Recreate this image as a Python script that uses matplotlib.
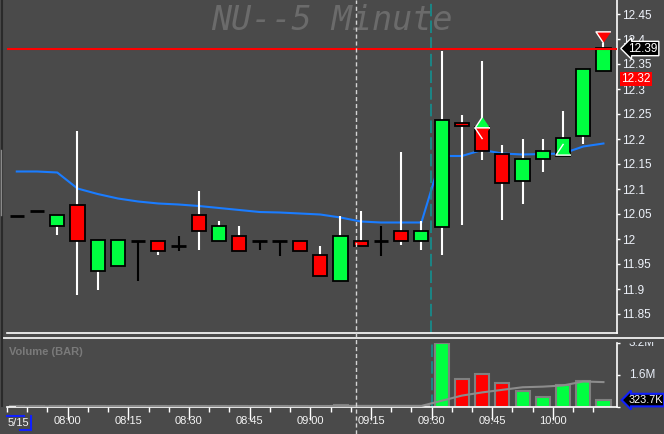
import matplotlib
matplotlib.use("Agg")
import matplotlib.pyplot as plt
import matplotlib.transforms as mtransforms
from matplotlib.lines import Line2D

plt.rcParams['font.family'] = ['Liberation Sans', 'DejaVu Sans']
plt.rcParams['lines.scale_dashes'] = False

# 5 minute bars, 07:45 .. 10:10
opens = [12.047, 12.057, 12.027, 12.067, 11.937, 11.947, 11.997, 11.997, 11.987, 12.047,
         11.997, 12.007, 11.997, 11.997, 11.997, 11.967, 11.917, 11.997, 11.997, 12.017,
         11.997, 12.024, 12.233, 12.223, 12.171, 12.117, 12.161, 12.167, 12.207, 12.337]
closes = [12.047, 12.057, 12.047, 11.997, 11.997, 11.997, 11.997, 11.977, 11.987, 12.017,
          12.027, 11.977, 11.997, 11.997, 11.977, 11.927, 12.007, 11.987, 11.997, 11.997,
          12.017, 12.237, 12.226, 12.177, 12.113, 12.161, 12.177, 12.201, 12.341, 12.381]
highs = [12.047, 12.057, 12.047, 12.216, 11.997, 11.997, 11.997, 11.997, 12.006, 12.096,
         12.036, 12.026, 11.997, 11.997, 11.997, 11.986, 12.046, 12.056, 12.026, 12.174,
         12.036, 12.376, 12.249, 12.356, 12.189, 12.200, 12.200, 12.256, 12.341, 12.392]
lows = [12.047, 12.057, 12.008, 11.889, 11.899, 11.947, 11.917, 11.969, 11.977, 11.979,
        11.997, 11.977, 11.978, 11.966, 11.977, 11.927, 11.917, 11.987, 11.966, 11.989,
        11.979, 11.969, 12.029, 12.159, 12.039, 12.071, 12.135, 12.167, 12.190, 12.337]
price_ma = [12.135, 12.135, 12.133, 12.101, 12.090, 12.081, 12.075, 12.071, 12.069, 12.066,
            12.062, 12.058, 12.054, 12.053, 12.051, 12.049, 12.043, 12.035, 12.033, 12.033,
            12.033, 12.166, 12.166, 12.178, 12.171, 12.169, 12.170, 12.171, 12.185, 12.191]
# volume in millions
volumes = [0.01, 0.01, 0.01, 0.04, 0.01, 0.04, 0.04, 0.01, 0.01, 0.03,
           0.03, 0.03, 0.01, 0.01, 0.01, 0.01, 0.07, 0.01, 0.01, 0.01,
           0.02, 3.19, 1.40, 1.65, 1.19, 0.79, 0.48, 1.09, 1.28, 0.3237]
volume_ma = [0.01, 0.01, 0.01, 0.02, 0.02, 0.02, 0.02, 0.02, 0.02, 0.02,
             0.02, 0.02, 0.02, 0.02, 0.02, 0.02, 0.03, 0.03, 0.03, 0.03,
             0.03, 0.29, 0.55, 0.71, 0.84, 0.97, 1.00, 1.06, 1.26, 1.23]

up_signal_bars = [23, 27]
up_signal_prices = [12.235, 12.180]
down_signal_bars = [23, 29]
down_signal_prices = [12.213, 12.405]

last_price = 12.381
last_label = "12.39"
prev_close = 12.32
volume_label = "323.7K"
price_ticks = [11.85, 11.9, 11.95, 12.0, 12.05, 12.1, 12.15, 12.2, 12.25, 12.3, 12.35, 12.4, 12.45]
time_pos = [2.5, 5.5, 8.5, 11.5, 14.5, 17.5, 20.5, 23.5, 26.5]
time_labels = ["08:00", "08:15", "08:30", "08:45", "09:00", "09:15", "09:30", "09:45", "10:00"]
date_label = "5/15"
session_line = 20.5
cursor_line = 16.77

W, H = 664, 434
bg = '#4a4a4a'
green = '#00ff40'
red = '#ff0000'


def box(l, t, r, b):
    return [l / W, 1 - b / H, (r - l) / W, (b - t) / H]


def fx(px):
    return px / W


def fy(py):
    return 1 - py / H


fig = plt.figure(figsize=(6.64, 4.34), dpi=100, facecolor=bg)
ax = fig.add_axes(box(7, 0, 617, 333), facecolor=bg)
axv = fig.add_axes(box(7, 343, 617, 406.5), facecolor=bg)

idx = list(range(len(opens)))
xlim = (-0.484, 29.67)

# ---- price panel ----
for i in idx:
    o, h, l, c = opens[i], highs[i], lows[i], closes[i]
    if c != o:
        col = green if c > o else red
        ax.vlines(i, l, h, color='white', lw=1.5, zorder=2)
        ax.bar(i, abs(c - o), bottom=min(o, c), width=0.7, color=col,
               edgecolor='black', lw=1.3, zorder=3)
    else:
        ax.vlines(i, l, h, color='black', lw=1.5, zorder=3)
        ax.hlines(o, i - 0.36, i + 0.36, color='black', lw=2, zorder=3)

ax.plot(idx, price_ma, color='#1a7cff', lw=1.5, zorder=1)
ax.axhline(last_price, color=red, lw=1.5, zorder=4)
ax.axvline(session_line, color='#139090', lw=1.2, dashes=(9, 3), zorder=1.5)

up_tri = [(0, 0.75), (-1, -0.75), (1, -0.75)]
down_tri = [(0, -0.75), (-1, 0.75), (1, 0.75)]
ax.plot(up_signal_bars, up_signal_prices, ls='none', marker=up_tri, ms=10.8,
        mfc=green, mec='white', mew=1, zorder=5)
ax.plot(down_signal_bars, down_signal_prices, ls='none', marker=down_tri, ms=10.8,
        mfc=red, mec='white', mew=1, zorder=5)

ax.set_xlim(*xlim)
ax.set_ylim(11.812, 12.478)
ax.set_xticks([])
ax.yaxis.tick_right()
ax.set_yticks(price_ticks)
ax.set_yticklabels([f'{v:g}' for v in price_ticks])
ax.tick_params(axis='y', colors='white', labelcolor='#eef2fa', length=2.2, width=1,
               pad=1.5, labelsize=8.5)
for s in ['top', 'left']:
    ax.spines[s].set_visible(False)
for s in ['right', 'bottom']:
    ax.spines[s].set_color('white')
    ax.spines[s].set_linewidth(1.2)

ax.text(0.5, fy(20), "NU--5 Minute", transform=fig.transFigure, ha='center', va='center',
        family='DejaVu Sans Mono', style='italic', fontsize=24, color='#6b6b6b', zorder=0.5)

ytrans = mtransforms.blended_transform_factory(ax.transAxes, ax.transData)
ax.text(1.0185, last_price, last_label, transform=ytrans, color='white', fontsize=8.5,
        va='center', ha='left', zorder=6,
        bbox=dict(boxstyle='larrow,pad=0.1', fc='black', ec='white', lw=1))
ax.text(1.0066, prev_close, f'{prev_close:.2f}', transform=ytrans, color='white', fontsize=8.5,
        va='center', ha='left', zorder=6,
        bbox=dict(boxstyle='square,pad=0.1', fc=red, ec='none'))

# ---- volume panel ----
vcols = [green if c >= o else red for o, c in zip(opens, closes)]
axv.bar(idx, volumes, width=0.7, color=vcols, edgecolor='#808080', lw=1.5, zorder=2)
axv.plot(idx, volume_ma, color='#8c8c8c', lw=1.5, zorder=3)
axv.axvline(session_line, color='#139090', lw=1.2, dashes=(9, 3), zorder=1.5)
axv.set_xlim(*xlim)
axv.set_ylim(0, 3.2)
axv.yaxis.tick_right()
axv.set_yticks([0, 1.6, 3.2])
axv.set_yticklabels([])
axv.tick_params(axis='y', colors='white', length=2.2, width=1)
axv.set_xticks(time_pos)
axv.set_xticklabels(time_labels)
axv.set_xticks([k - 0.5 for k in idx], minor=True)
axv.tick_params(axis='x', which='major', colors='white', length=9.4, width=1, pad=-2.5,
                labelsize=8, labelcolor='#f4f4f4')
axv.tick_params(axis='x', which='minor', colors='white', length=3.6, width=1)
for s in ['top', 'left']:
    axv.spines[s].set_visible(False)
for s in ['right', 'bottom']:
    axv.spines[s].set_color('white')
    axv.spines[s].set_linewidth(1.2)

vtrans = mtransforms.blended_transform_factory(axv.transAxes, axv.transData)
clip = mtransforms.TransformedBbox(mtransforms.Bbox([[fx(617), 0], [1, fy(342)]]), fig.transFigure)
for v, lab in [(3.2, '3.2M'), (1.6, '1.6M')]:
    t = axv.text(1.0623, v, lab, transform=vtrans, color='#e8eef8', fontsize=8.5,
                 ha='right', va='center')
    t.set_clip_box(clip)
    t.set_clip_on(True)
axv.text(1.0185, volumes[-1], volume_label, transform=vtrans, color='white', fontsize=7.8,
         va='center', ha='left', zorder=6,
         bbox=dict(boxstyle='larrow,pad=0.12', fc='black', ec='#1020ff', lw=1.5))

fig.text(fx(9), fy(352), "Volume (BAR)", color='#7a7a7a', fontsize=8, weight='bold',
         ha='left', va='center')
fig.text(fx(8), fy(422.5), date_label, color='#f4f4f4', fontsize=8, ha='left', va='center')

# frame decorations
blue = '#1020ff'
for xs, ys in [((7, 24), (416, 416)), ((30.5, 30.5), (416, 430)), ((20, 31), (429.5, 429.5))]:
    fig.add_artist(Line2D([fx(x) for x in xs], [fy(y) for y in ys], color=blue, lw=1.5))
fig.add_artist(Line2D([fx(2), 1], [fy(338.3), fy(338.3)], color='white', lw=1.2))
fig.add_artist(Line2D([fx(1.8), fx(1.8)], [fy(0), fy(406)], color='#2a2a2a', lw=1.5))
fig.add_artist(Line2D([fx(0.5), fx(0.5)], [fy(150), fy(215)], color='#8a8a8a', lw=1))

ctrans = mtransforms.blended_transform_factory(axv.transData, fig.transFigure)
fig.add_artist(Line2D([cursor_line, cursor_line], [0, 1], transform=ctrans,
                      color='#d4d4d4', lw=1, dashes=(3, 2)))

fig.savefig("out.png", dpi=100, facecolor=bg)
